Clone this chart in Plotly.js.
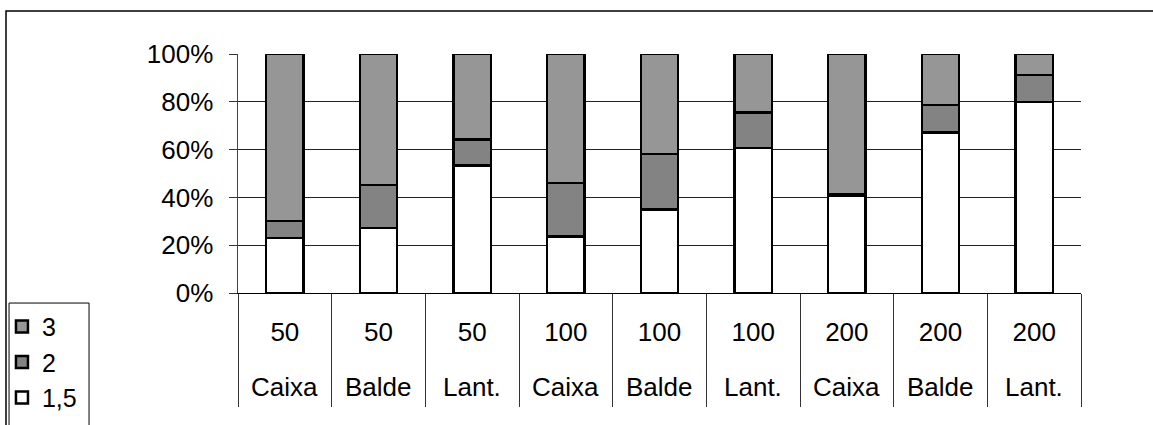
<!DOCTYPE html>
<html>
<head>
<meta charset="utf-8">
<script src="https://cdn.plot.ly/plotly-3.0.1.min.js"></script>
<style>
html,body{margin:0;padding:0;background:#fff;}
#chart{width:1153px;height:425px;}
</style>
</head>
<body>
<div id="chart"></div>
<script>
// Data (percent of each bar)
var doses = ['50','50','50','100','100','100','200','200','200'];
var containers = ['Caixa','Balde','Lant.','Caixa','Balde','Lant.','Caixa','Balde','Lant.'];
var s15 = [23.0, 27.3, 53.4, 23.6, 35.0, 60.7, 40.9, 67.1, 79.9];
var s2  = [7.1, 17.9, 10.9, 22.5, 23.2, 14.8, 0.5, 11.6, 11.3];
var s3  = [69.9, 54.8, 35.7, 53.9, 41.8, 24.5, 58.6, 21.3, 8.8];
var seriesNames = ['1,5', '2', '3'];
var yTicks = [0, 20, 40, 60, 80, 100];
var yTickLabels = ['0%', '20%', '40%', '60%', '80%', '100%'];

var ids = doses.map(function(d, i){ return d + ' ' + containers[i]; });
var FONT = 'Liberation Sans, Arial, sans-serif';
var FS = 26;
var line = {color: '#000', width: 2.5};

var traces = [
  {type: 'bar', name: seriesNames[0], x: ids, y: s15,
   marker: {color: '#ffffff', line: line}},
  {type: 'bar', name: seriesNames[1], x: ids, y: s2,
   marker: {color: '#8a8a8a', line: line,
            pattern: {shape: '.', fgcolor: '#585858', bgcolor: '#a4a4a4', size: 2, solidity: 0.5}}},
  {type: 'bar', name: seriesNames[2], x: ids, y: s3,
   marker: {color: '#969696', line: line}}
];

var annotations = ids.map(function(id, i){
  return {xref: 'x', yref: 'paper', x: id, y: -0.393, yanchor: 'middle',
          text: containers[i], showarrow: false,
          font: {family: FONT, size: FS, color: '#000'}};
});

var layout = {
  width: 1153, height: 425,
  margin: {l: 238, r: 72, t: 54, b: 132, autoexpand: false},
  paper_bgcolor: '#fff', plot_bgcolor: '#fff',
  font: {family: FONT, size: FS, color: '#000'},
  barmode: 'stack', bargap: 0.6,
  showlegend: true,
  legend: {x: -0.28, xanchor: 'left', y: -0.045, yanchor: 'top',
           traceorder: 'reversed', bgcolor: 'rgba(0,0,0,0)', borderwidth: 0,
           font: {family: FONT, size: 25, color: '#000'}, itemwidth: 30},
  xaxis: {type: 'category', tickmode: 'array', tickvals: ids, ticktext: doses,
          ticks: 'outside', tickson: 'boundaries', ticklen: 113, tickcolor: '#333', tickwidth: 1,
          ticklabelstandoff: 16,
          showline: true, linecolor: '#000', linewidth: 1, showgrid: false, zeroline: false},
  yaxis: {range: [0, 100], tickmode: 'array', tickvals: yTicks, ticktext: yTickLabels,
          ticks: 'outside', ticklen: 8, tickcolor: '#333', tickwidth: 1,
          ticklabelstandoff: 10,
          showline: true, linecolor: '#444', linewidth: 1.5,
          showgrid: true, gridcolor: '#222', gridwidth: 1, zeroline: false},
  xaxis2: {overlaying: 'x', anchor: 'y', side: 'top', range: [0, 1], layer: 'below traces',
           showline: true, linecolor: '#a0a0a0', linewidth: 2, showgrid: false, zeroline: false,
           showticklabels: false, ticks: ''},
  yaxis2: {overlaying: 'y', anchor: 'x', side: 'right', range: [0, 1], layer: 'below traces',
           showline: true, linecolor: '#a0a0a0', linewidth: 2, showgrid: false, zeroline: false,
           showticklabels: false, ticks: ''},
  shapes: [
    {type: 'rect', xref: 'paper', yref: 'paper', x0: -0.2752, x1: 1.2, y0: -0.7, y1: 1.18,
     line: {color: '#000', width: 1.5}, fillcolor: 'rgba(0,0,0,0)', layer: 'above'},
    {type: 'rect', xref: 'paper', yref: 'paper', x0: -0.2716, x1: -0.1767, y0: -0.7, y1: -0.042,
     line: {color: '#000', width: 1}, fillcolor: 'rgba(0,0,0,0)', layer: 'above'}
  ],
  annotations: annotations
};

Plotly.newPlot('chart', traces, layout, {displayModeBar: false, staticPlot: true});
</script>
</body>
</html>
